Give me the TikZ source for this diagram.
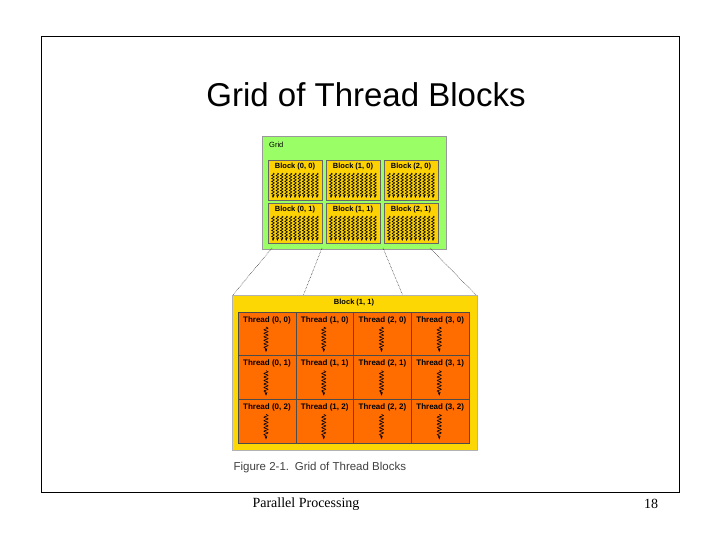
\documentclass[tikz,border=0pt]{standalone}
\usepackage{fontspec}
\setmainfont{Liberation Serif}
\newfontfamily\arialfont{Liberation Sans}
\usetikzlibrary{decorations.pathmorphing,arrows.meta}
\begin{document}
\begin{tikzpicture}[x=1pt,y=-1pt]
  \tikzset{
    blk/.style={draw=black!60,fill=yellow!70!orange,line width=0.4pt},
    cell/.style={draw=black!70,fill=orange!85!red,line width=0.4pt},
    lbl/.style={font=\arialfont\bfseries\fontsize{7.5}{8}\selectfont,inner sep=0pt},
    thr/.style={decorate,decoration={snake,segment length=3.5pt,amplitude=2pt,post length=2pt},-{Stealth[length=3.5pt]},line width=0.6pt},
    persp/.style={densely dotted,line width=0.5pt}
  }
  \useasboundingbox (0,0) rectangle (720,540);
  \draw[line width=0.8pt] (41,36) rectangle (679,492);
  \node (title) at (366,95) {\arialfont\fontsize{33}{36}\selectfont Grid of Thread Blocks};
  % grid of blocks
  \draw[draw=black!40,fill=green!55!lime!60] (262,136) rectangle (446,249);
  \node[lbl,anchor=west,font=\arialfont\fontsize{7.5}{8}\selectfont] (gridlbl) at (269,145) {Grid};
  \foreach \c in {0,1,2}{
    \foreach \r in {0,1}{
      \pgfmathsetmacro{\bx}{268+58*\c}
      \pgfmathsetmacro{\by}{160+43*\r}
      \draw[blk] (\bx,\by) rectangle ++(54,40);
      \node[lbl] (b\c\r) at (\bx+27,\by+6.5) {Block (\c, \r)};
      \foreach \k in {0,...,10}{
        \draw[thr,line width=0.6pt,decoration={segment length=3pt,amplitude=1.3pt,post length=1.5pt},-{Stealth[length=3pt]}]
          (\bx+5+4.4*\k,\by+13) -- (\bx+5+4.4*\k,\by+38);
      }
    }
  }
  % perspective lines
  \coordinate (p1) at (272,248); \coordinate (q1) at (232,296);
  \coordinate (p2) at (322,248); \coordinate (q2) at (303,296);
  \coordinate (p3) at (383,248); \coordinate (q3) at (403,296);
  \coordinate (p4) at (430,248); \coordinate (q4) at (477,296);
  \foreach \i in {1,...,4} \draw[persp] (p\i) -- (q\i);
  % block (1,1) in detail
  \draw[draw=black!30,fill=yellow!75!orange] (232,295) rectangle (477,450);
  \node[lbl] (bigtitle) at (354,303) {Block (1, 1)};
  \foreach \c in {0,...,3}{
    \foreach \r in {0,1,2}{
      \pgfmathsetmacro{\tx}{238+57.75*\c}
      \pgfmathsetmacro{\ty}{312+43.67*\r}
      \draw[cell] (\tx,\ty) rectangle ++(57.75,43.67);
      \node[lbl,font=\arialfont\bfseries\fontsize{8}{9}\selectfont] (t\c\r) at (\tx+28.9,\ty+8) {Thread (\c, \r)};
      \draw[thr] (\tx+28,\ty+15) -- (\tx+28,\ty+40);
    }
  }
  \node[anchor=west,text=black!75] (caption) at (230,468) {\arialfont\fontsize{11.5}{13}\selectfont Figure 2-1.\enspace Grid of Thread Blocks};
  % footer
  \node (foot) at (306,504) {\fontsize{14}{16}\selectfont Parallel Processing};
  \node (page) at (651,504) {\fontsize{14}{16}\selectfont 18};
\end{tikzpicture}
\end{document}
